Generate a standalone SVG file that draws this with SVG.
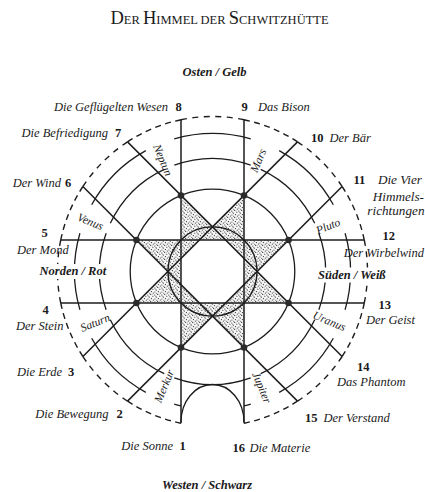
<svg xmlns="http://www.w3.org/2000/svg" width="425" height="492" viewBox="0 0 425 492">
<defs>
<pattern id="stip" patternUnits="userSpaceOnUse" width="7" height="7">
<rect width="7" height="7" fill="#f6f6f6"/>
<g fill="#2a2a2a">
<circle cx="0.8" cy="1" r="0.6"/><circle cx="3.7" cy="0.5" r="0.55"/><circle cx="2.3" cy="3.1" r="0.6"/><circle cx="5.9" cy="2.6" r="0.5"/>
<circle cx="0.9" cy="5.0" r="0.55"/><circle cx="4.4" cy="4.6" r="0.6"/><circle cx="2.8" cy="6.3" r="0.5"/><circle cx="6.3" cy="6.1" r="0.55"/>
<circle cx="5.2" cy="0.9" r="0.4"/><circle cx="1.6" cy="2.2" r="0.4"/>
</g>
</pattern>
<style>
.ln{stroke:#1c1c1c;stroke-width:1.5;fill:none}
.arc{stroke:#1c1c1c;stroke-width:1.3;fill:none}
.dsb{stroke:#1c1c1c;stroke-width:1.4;fill:none;stroke-dasharray:6 5.49}
.dsw{stroke:#1c1c1c;stroke-width:1.4;fill:none;stroke-dasharray:6 4.45}
.dot{fill:#2a2a2a}
text{font-family:"Liberation Serif","Times New Roman",serif;fill:#1a1a1a}
.lab{font-style:italic;font-size:12.5px}
.big{font-style:italic;font-size:13.2px}
.num{font-weight:bold;font-size:12.5px}
.dir{font-weight:bold;font-style:italic;font-size:12.5px}
.pl{font-style:italic;font-size:11.5px;text-anchor:middle}
</style>
</defs>
<rect width="425" height="492" fill="#fff"/>

<g id="title">
<text x="219.5" y="23.5" text-anchor="middle" fill="#222"><tspan font-size="18.5">D</tspan><tspan font-size="12.5">ER </tspan><tspan font-size="18.5">H</tspan><tspan font-size="12.5">IMMEL DER </tspan><tspan font-size="18.5">S</tspan><tspan font-size="12.5">CHWITZHÜTTE</tspan></text>
</g>

<g id="star">
<polygon points="244,195.45 244,347.55 136.45,240 288.55,240 181,347.55 181,195.45 288.55,303 136.45,303" fill="url(#stip)" fill-rule="nonzero"/>
<polygon points="199.45,240 225.55,240 244,258.45 244,284.55 225.55,303 199.45,303 181,284.55 181,258.45" fill="#fff"/>
</g>

<g id="circles">
<circle class="arc" cx="212.5" cy="271.5" r="82.3"/>
<circle class="arc" cx="212.5" cy="271.5" r="44.55"/>
</g>

<g id="connectors">
<path class="ln" d="M181,119.74 L181,423.26"/>
<path class="ln" d="M244,119.74 L244,423.26"/>
<path class="ln" d="M60.74,240 L364.26,240"/>
<path class="ln" d="M60.74,303 L364.26,303"/>
<path class="ln" d="M127.5,141.89 L342.11,356.5"/>
<path class="ln" d="M82.89,186.5 L297.5,401.11"/>
<path class="ln" d="M82.89,356.5 L297.5,141.89"/>
<path class="ln" d="M127.5,401.11 L342.11,186.5"/>
</g>

<g id="outer-dashed">
<path class="dsb" d="M180.99,119.74 A155,155 0 0 1 244.01,119.74"/>
<path class="dsb" d="M297.50,141.89 A155,155 0 0 1 342.11,186.50"/>
<path class="dsb" d="M364.26,239.99 A155,155 0 0 1 364.26,303.01"/>
<path class="dsb" d="M342.11,356.50 A155,155 0 0 1 297.50,401.11"/>
<path class="dsb" d="M127.50,401.11 A155,155 0 0 1 82.89,356.50"/>
<path class="dsb" d="M60.74,303.01 A155,155 0 0 1 60.74,239.99"/>
<path class="dsb" d="M82.89,186.50 A155,155 0 0 1 127.50,141.89"/>
<path class="dsw" d="M180.99,423.26 A155,155 0 0 1 127.50,401.11"/>
<path class="dsw" d="M82.89,356.50 A155,155 0 0 1 60.74,303.01"/>
<path class="dsw" d="M60.74,239.99 A155,155 0 0 1 82.89,186.50"/>
<path class="dsw" d="M127.50,141.89 A155,155 0 0 1 180.99,119.74"/>
<path class="dsw" d="M244.01,119.74 A155,155 0 0 1 297.50,141.89"/>
<path class="dsw" d="M342.11,186.50 A155,155 0 0 1 364.26,239.99"/>
<path class="dsw" d="M364.26,303.01 A155,155 0 0 1 342.11,356.50"/>
<path class="dsw" d="M297.50,401.11 A155,155 0 0 1 244.01,423.26"/>
</g>

<g id="band-arcs">
<path class="arc" d="M174.33,165.14 A113,113 0 0 1 250.67,165.14"/>
<path class="arc" d="M260.72,169.30 A113,113 0 0 1 314.70,223.28"/>
<path class="arc" d="M318.86,233.33 A113,113 0 0 1 318.86,309.67"/>
<path class="arc" d="M314.70,319.72 A113,113 0 0 1 260.72,373.70"/>
<path class="arc" d="M250.67,377.86 A113,113 0 0 1 174.33,377.86"/>
<path class="arc" d="M164.28,373.70 A113,113 0 0 1 110.30,319.72"/>
<path class="arc" d="M106.14,309.67 A113,113 0 0 1 106.14,233.33"/>
<path class="arc" d="M110.30,223.28 A113,113 0 0 1 164.28,169.30"/>
<path class="arc" d="M174.23,138.91 A138,138 0 0 1 250.77,138.91"/>
<path class="arc" d="M279.20,150.68 A138,138 0 0 1 333.32,204.80"/>
<path class="arc" d="M345.09,233.23 A138,138 0 0 1 345.09,309.77"/>
<path class="arc" d="M333.32,338.20 A138,138 0 0 1 279.20,392.32"/>
<path class="arc" d="M145.80,392.32 A138,138 0 0 1 91.68,338.20"/>
<path class="arc" d="M79.91,309.77 A138,138 0 0 1 79.91,233.23"/>
<path class="arc" d="M91.68,204.80 A138,138 0 0 1 145.80,150.68"/>
<path class="arc" d="M244.02,405.86 A138,138 0 0 0 250.77,404.09"/>
<path class="arc" d="M180.98,405.86 A138,138 0 0 1 174.23,404.09"/>
<path class="arc" d="M181,422 A31.5,37.5 0 0 1 244,422"/>
</g>

<g id="dots">
<circle class="dot" cx="244" cy="195.45" r="3.3"/>
<circle class="dot" cx="288.55" cy="240" r="3.3"/>
<circle class="dot" cx="288.55" cy="303" r="3.3"/>
<circle class="dot" cx="244" cy="347.55" r="3.3"/>
<circle class="dot" cx="181" cy="347.55" r="3.3"/>
<circle class="dot" cx="136.45" cy="303" r="3.3"/>
<circle class="dot" cx="136.45" cy="240" r="3.3"/>
<circle class="dot" cx="181" cy="195.45" r="3.3"/>
</g>

<g id="directions">
<text class="dir" x="214.5" y="75.5" text-anchor="middle">Osten / Gelb</text>
<rect x="37" y="264" width="71" height="15" fill="#fff"/>
<text class="dir" x="39.5" y="275">Norden / Rot</text>
<rect x="315.5" y="267.5" width="75" height="15" fill="#fff"/>
<text class="dir" x="318" y="278.5">Süden / Weiß</text>
<text class="dir" x="207" y="488.5" text-anchor="middle">Westen / Schwarz</text>
</g>

<g id="planets">
<text class="pl" transform="translate(163,160) rotate(67.5)" y="4">Neptun</text>
<text class="pl" transform="translate(258,160.5) rotate(-67.5)" y="4">Mars</text>
<text class="pl" transform="translate(90.5,221.5) rotate(22.5)" y="4">Venus</text>
<text class="pl" transform="translate(328,226) rotate(-22.5)" y="4">Pluto</text>
<text class="pl" transform="translate(95,322.5) rotate(-22.5)" y="4">Saturn</text>
<text class="pl" transform="translate(329.5,321) rotate(22.5)" y="4">Uranus</text>
<text class="pl" transform="translate(164,386) rotate(-67.5)" y="4">Merkur</text>
<text class="pl" transform="translate(262,387.5) rotate(67.5)" y="4">Jupiter</text>
</g>

<g id="p1"><text class="lab" x="173" y="449.5" text-anchor="end">Die Sonne</text><text class="num" x="179.5" y="449.5">1</text></g>
<g id="p2"><text class="lab" x="108.5" y="418" text-anchor="end">Die Bewegung</text><text class="num" x="116.5" y="418">2</text></g>
<g id="p3"><text class="lab" x="62" y="375.5" text-anchor="end">Die Erde</text><text class="num" x="68" y="375.5">3</text></g>
<g id="p4"><text class="num" x="42.5" y="314">4</text><text class="lab" x="16" y="330">Der Stein</text></g>
<g id="p5"><text class="num" x="41.5" y="237">5</text><text class="lab" x="17" y="253.5">Der Mond</text></g>
<g id="p6"><text class="lab" x="61" y="187" text-anchor="end">Der Wind</text><text class="num" x="65" y="187">6</text></g>
<g id="p7"><text class="lab" x="108" y="137" text-anchor="end">Die Befriedigung</text><text class="num" x="115" y="137">7</text></g>
<g id="p8"><text class="lab" x="168" y="110.5" text-anchor="end">Die Geflügelten Wesen</text><text class="num" x="175.5" y="110.5">8</text></g>
<g id="p9"><text class="num" x="241.5" y="110.5">9</text><text class="lab" x="258" y="110.5">Das Bison</text></g>
<g id="p10"><text class="num" x="311" y="142">10</text><text class="lab" x="329.5" y="142">Der Bär</text></g>
<g id="p11"><text class="num" x="353.5" y="184">11</text><text class="big" x="422" y="184" text-anchor="end">Die Vier</text><text class="big" x="424" y="201" text-anchor="end">Himmels-</text><text class="big" x="424.5" y="215" text-anchor="end">richtungen</text></g>
<g id="p12"><text class="num" x="382.5" y="240">12</text><text class="lab" x="424" y="256.5" text-anchor="end">Der Wirbelwind</text></g>
<g id="p13"><text class="num" x="378.5" y="309">13</text><text class="lab" x="366" y="324">Der Geist</text></g>
<g id="p14"><text class="num" x="357" y="371">14</text><text class="lab" x="337" y="386">Das Phantom</text></g>
<g id="p15"><text class="num" x="305" y="421.5">15</text><text class="lab" x="323.5" y="421.5">Der Verstand</text></g>
<g id="p16"><text class="num" x="232.5" y="451.5">16</text><text class="lab" x="249.5" y="451.5">Die Materie</text></g>
</svg>
